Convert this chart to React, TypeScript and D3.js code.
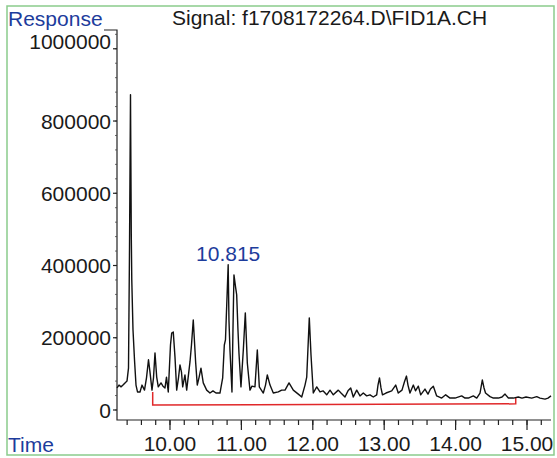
import React, { useRef, useEffect } from 'react';
import * as d3 from 'd3';

// chromatogram trace (min, counts)
const times = [
  9.258, 9.286, 9.314, 9.342, 9.370, 9.398, 9.419, 9.433, 9.447, 9.458, 9.465, 9.482, 9.503, 9.524, 9.545,
  9.580, 9.608, 9.643, 9.671, 9.699, 9.720, 9.748, 9.769, 9.790, 9.814, 9.836, 9.874, 9.902, 9.930, 9.951,
  9.976, 10.007, 10.024, 10.046, 10.070, 10.094, 10.119, 10.140, 10.161, 10.178, 10.210, 10.234, 10.280,
  10.301, 10.326, 10.360, 10.382, 10.406, 10.434, 10.466, 10.514, 10.560, 10.602, 10.644, 10.700, 10.738,
  10.761, 10.777, 10.815, 10.826, 10.840, 10.868, 10.882, 10.896, 10.920, 10.934, 10.952, 10.966, 10.994,
  11.027, 11.055, 11.083, 11.120, 11.148, 11.190, 11.223, 11.251, 11.307, 11.338, 11.363, 11.401, 11.447,
  11.517, 11.564, 11.611, 11.667, 11.727, 11.797, 11.845, 11.891, 11.915, 11.951, 11.975, 11.985, 12.007,
  12.055, 12.101, 12.143, 12.195, 12.241, 12.287, 12.357, 12.395, 12.451, 12.493, 12.531, 12.567, 12.615,
  12.661, 12.707, 12.755, 12.801, 12.847, 12.895, 12.913, 12.934, 12.955, 12.976, 13.025, 13.105, 13.161,
  13.197, 13.249, 13.284, 13.312, 13.333, 13.361, 13.408, 13.438, 13.478, 13.511, 13.571, 13.613, 13.648,
  13.688, 13.735, 13.805, 13.861, 13.922, 13.992, 14.085, 14.132, 14.178, 14.248, 14.296, 14.342, 14.374,
  14.398, 14.419, 14.482, 14.529, 14.599, 14.650, 14.692, 14.739, 14.809, 14.878, 14.930, 14.986, 15.066,
  15.136, 15.182, 15.252, 15.294, 15.336
];
const responses = [
  61000, 69000, 64000, 69000, 75000, 80000, 116000, 443000, 873000, 485000, 360000, 222000, 139000, 69000, 50000,
  50000, 69000, 55000, 89000, 139000, 105000, 55000, 89000, 158000, 91000, 64000, 75000, 66000, 61000, 91000,
  50000, 180000, 213000, 216000, 147000, 55000, 89000, 125000, 105000, 64000, 97000, 55000, 133000,
  180000, 249000, 130000, 69000, 89000, 116000, 75000, 55000, 47000, 53000, 47000, 47000, 89000,
  180000, 194000, 402000, 249000, 166000, 50000, 222000, 374000, 338000, 319000, 222000, 158000, 64000,
  166000, 269000, 130000, 55000, 66000, 64000, 166000, 64000, 47000, 69000, 97000, 69000, 47000,
  50000, 55000, 55000, 75000, 55000, 44000, 36000, 69000, 91000, 255000, 152000, 119000, 47000,
  64000, 50000, 53000, 42000, 55000, 42000, 55000, 47000, 36000, 53000, 61000, 36000, 55000,
  39000, 47000, 39000, 42000, 36000, 42000, 69000, 89000, 61000, 42000, 47000, 53000, 69000,
  47000, 55000, 78000, 94000, 69000, 47000, 69000, 53000, 66000, 42000, 58000, 44000, 58000,
  66000, 39000, 33000, 42000, 33000, 33000, 39000, 33000, 33000, 39000, 33000, 47000, 83000,
  61000, 47000, 37000, 33000, 33000, 36000, 44000, 33000, 33000, 36000, 33000, 36000, 33000,
  37000, 33000, 30000, 33000, 39000
];

// integration baseline (red)
const baselineTimes = [9.758, 9.758, 14.842, 14.842];
const baselineValues = [50000, 14000, 17000, 33000];

const yTicks = [0, 200000, 400000, 600000, 800000, 1000000];
const xTicks = [10, 11, 12, 13, 14, 15];
const peakTimes = [10.815];
const peakLabels = ['10.815'];

const signalTitle = 'Signal: f1708172264.D\\FID1A.CH';

export default function App() {
  const svgRef = useRef<SVGSVGElement>(null);
  const width = 557;
  const height = 458;

  useEffect(() => {
    const svg = d3.select(svgRef.current);
    svg.selectAll('*').remove();

    const font = 'Liberation Sans, Arial, sans-serif';
    const blue = '#1d3c9c';
    const fs = 21;

    svg.append('rect').attr('width', width).attr('height', height).attr('fill', '#fff');

    // green frame
    svg.append('rect')
      .attr('x', 7).attr('y', 6)
      .attr('width', 547).attr('height', 449)
      .attr('fill', 'none')
      .attr('stroke', '#8acb8c')
      .attr('stroke-width', 1.5);

    const xScale = d3.scaleLinear().domain([9.258, 15.336]).range([117, 551]);
    const yScale = d3.scaleLinear().domain([-27700, 1052000]).range([420, 30]);

    const y0 = yScale.range()[0];
    const yTop = yScale.range()[1];

    // axes frame: hook under "Response", y axis, x axis
    svg.append('path')
      .attr('d', `M104,${yTop}H${xScale(9.258)}V${y0}H${xScale(15.336)}`)
      .attr('fill', 'none')
      .attr('stroke', '#222')
      .attr('stroke-width', 1.2);

    // y ticks
    const yMinor = d3.range(0, 1040001, 40000);
    svg.append('g').selectAll('line')
      .data(yMinor)
      .enter()
      .append('line')
      .attr('x1', 117 - 2).attr('x2', 117)
      .attr('y1', d => yScale(d)).attr('y2', d => yScale(d))
      .attr('stroke', '#444').attr('stroke-width', 0.8);

    svg.append('g').selectAll('line')
      .data(yTicks)
      .enter()
      .append('line')
      .attr('x1', 117 - 4).attr('x2', 117)
      .attr('y1', d => yScale(d)).attr('y2', d => yScale(d))
      .attr('stroke', '#222').attr('stroke-width', 1.2);

    svg.append('g').selectAll('text')
      .data(yTicks)
      .enter()
      .append('text')
      .attr('x', 111)
      .attr('y', d => yScale(d) + (d === 1000000 ? -7 : 0))
      .attr('dy', '0.36em')
      .attr('text-anchor', 'end')
      .attr('font-family', font)
      .attr('font-size', fs)
      .attr('fill', '#1a1a1a')
      .text(d => String(d));

    // x ticks, minor every 0.2 min
    const xMinor = d3.range(9.4, 15.25, 0.2);
    svg.append('g').selectAll('line')
      .data(xMinor)
      .enter()
      .append('line')
      .attr('x1', d => xScale(d)).attr('x2', d => xScale(d))
      .attr('y1', y0).attr('y2', y0 + 5)
      .attr('stroke', '#222').attr('stroke-width', 1.2);

    svg.append('g').selectAll('line')
      .data(xTicks)
      .enter()
      .append('line')
      .attr('x1', d => xScale(d)).attr('x2', d => xScale(d))
      .attr('y1', y0).attr('y2', y0 + 10)
      .attr('stroke', '#222').attr('stroke-width', 1.2);

    svg.append('g').selectAll('text')
      .data(xTicks)
      .enter()
      .append('text')
      .attr('x', d => xScale(d))
      .attr('y', 451)
      .attr('text-anchor', 'middle')
      .attr('font-family', font)
      .attr('font-size', fs)
      .attr('fill', '#1a1a1a')
      .text(d => d.toFixed(2));

    // baseline
    const pts = times.map((t, i) => [t, responses[i]] as [number, number]);
    const base = baselineTimes.map((t, i) => [t, baselineValues[i]] as [number, number]);

    const line = d3.line<[number, number]>()
      .x(d => xScale(d[0]))
      .y(d => yScale(d[1]));

    svg.append('path')
      .datum(base)
      .attr('d', line)
      .attr('fill', 'none')
      .attr('stroke', '#e0282a')
      .attr('stroke-width', 1.5);

    // signal
    svg.append('path')
      .datum(pts)
      .attr('d', line)
      .attr('fill', 'none')
      .attr('stroke', '#111')
      .attr('stroke-width', 1.4)
      .attr('stroke-linejoin', 'round');

    // peak label
    svg.append('g').selectAll('text')
      .data(peakTimes)
      .enter()
      .append('text')
      .attr('x', d => xScale(d))
      .attr('y', d => yScale(responses[times.indexOf(d)]) - 4)
      .attr('text-anchor', 'middle')
      .attr('font-family', font)
      .attr('font-size', fs)
      .attr('fill', blue)
      .text((d, i) => peakLabels[i]);

    // titles
    svg.append('text')
      .attr('x', 8).attr('y', 26)
      .attr('font-family', font).attr('font-size', fs)
      .attr('fill', blue)
      .text('Response');

    svg.append('text')
      .attr('x', 172).attr('y', 25)
      .attr('font-family', font).attr('font-size', fs)
      .attr('fill', '#1a1a1a')
      .text(signalTitle);

    svg.append('text')
      .attr('x', 8).attr('y', 452)
      .attr('font-family', font).attr('font-size', fs)
      .attr('fill', blue)
      .text('Time');
  }, []);

  return (
    <svg
      ref={svgRef}
      width={width}
      height={height}
      style={{ position: 'absolute', left: 0, top: 0, display: 'block' }}
    />
  );
}
